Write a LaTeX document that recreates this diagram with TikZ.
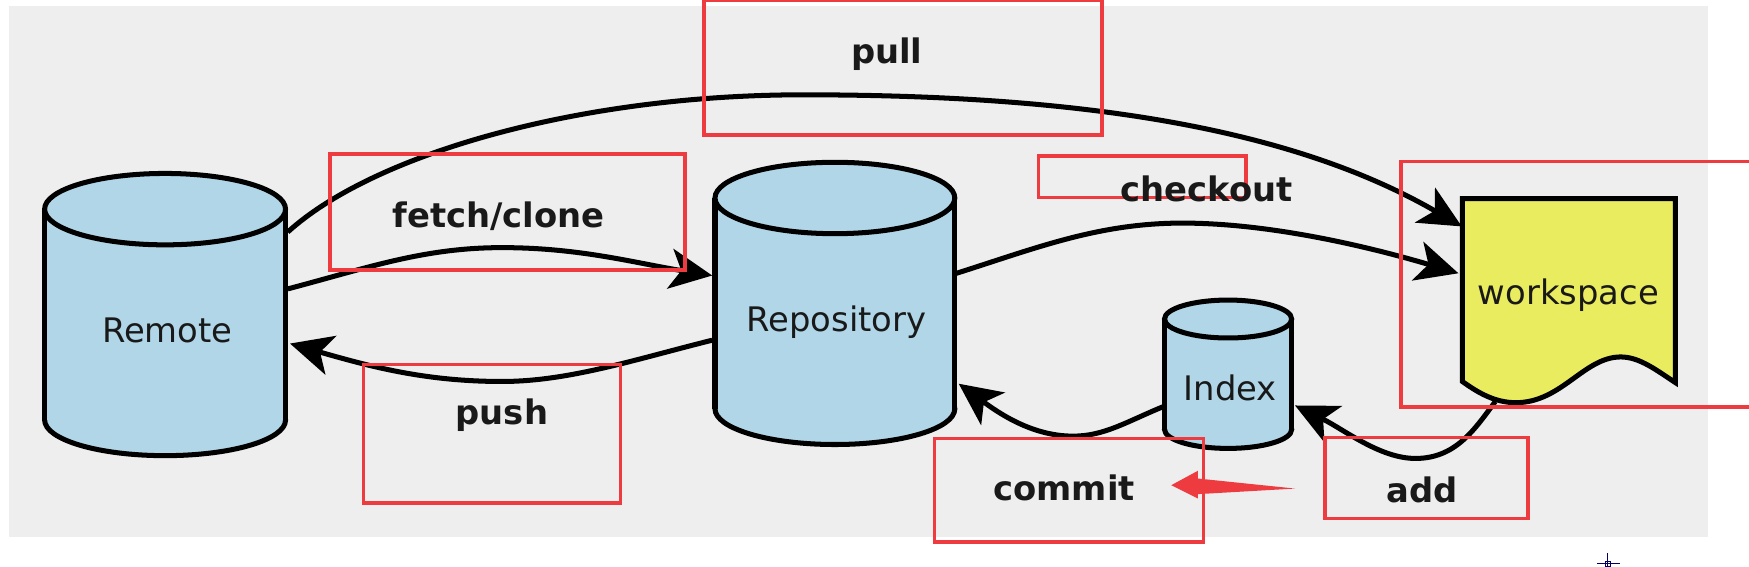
\documentclass[tikz,border=0pt]{standalone}
\usepackage{fontspec}
\setmainfont{DejaVu Sans}
\usetikzlibrary{arrows.meta,calc}
\definecolor{panel}{HTML}{EFEEEF}
\definecolor{dbblue}{HTML}{B0D6E7}
\definecolor{wsyellow}{HTML}{EAEC60}
\definecolor{redmark}{HTML}{EE3B40}
\tikzset{
  dbbox/.style={inner sep=0pt,outer sep=0pt},
  dbline/.style={draw=black,line width=4.5pt},
  plain/.style={font=\fontsize{30.3}{34}\selectfont,text=black!90,inner sep=0pt},
  cmd/.style={font=\fontsize{30.3}{34}\selectfont\bfseries,text=black!90,inner sep=0pt},
  flow/.style={line width=4.5pt,draw=black,-{Stealth[length=38pt,width=36pt,inset=10pt]}},
  markbox/.style={draw=redmark,line width=3pt,fill=none,inner sep=0pt,outer sep=0pt},
}
% name, half width, ellipse half height
\newcommand{\dbcylinder}[3]{%
  \draw[dbline,fill=dbblue] ($(#1.south)+(0,-#3)$) ellipse [x radius=#2,y radius=#3];
  \fill[dbblue] ($(#1.north west)+(0,#3)$) rectangle ($(#1.south east)+(0,-#3)$);
  \draw[dbline] ($(#1.north west)+(0,#3)$) -- ($(#1.south west)+(0,-#3)$)
                ($(#1.north east)+(0,#3)$) -- ($(#1.south east)+(0,-#3)$);
  \draw[dbline,fill=dbblue] ($(#1.north)+(0,#3)$) ellipse [x radius=#2,y radius=#3];
}
\begin{document}
\begin{tikzpicture}[x=1pt,y=-1pt]
\useasboundingbox (0,0) rectangle (1568,508.3);
\fill[white] (0,0) rectangle (1568,508.3);
\fill[panel] (8,5) rectangle (1531,481);
% nodes
\node[dbbox,minimum width=216pt,minimum height=253pt] (remote) at (148,282) {};
\node[dbbox,minimum width=215pt,minimum height=253pt] (repo) at (748.5,272) {};
\node[dbbox,minimum width=114pt,minimum height=133pt] (index) at (1101,335.5) {};
\node[dbbox,minimum width=191pt,minimum height=184pt] (ws) at (1406.5,270) {};
% connectors
\draw[flow] ([shift={(110,-74)}]remote.center) .. controls (335,138) and (520,85) .. (720,85)
  .. controls (950,85) and (1150,110) .. ([shift={(-96,-67)}]ws.center);
\draw[flow] ([shift={(110,-23)}]remote.center) .. controls (330,240) and (380,222) .. (450,222)
  .. controls (520,222) and (570,236) .. ([shift={(-110,-25)}]repo.center);
\draw[flow] ([shift={(-110,33)}]repo.center) .. controls (570,322) and (510,342) .. (450,342)
  .. controls (380,342) and (330,328) .. ([shift={(112,26)}]remote.center);
\draw[flow] ([shift={(109,-27)}]repo.center) .. controls (930,222) and (985,200) .. (1060,200)
  .. controls (1140,200) and (1230,222) .. ([shift={(-99,-25)}]ws.center);
\draw[flow] ([shift={(-58,29)}]index.center) .. controls (1010,378) and (990,391) .. (962,391)
  .. controls (925,391) and (895,370) .. ([shift={(111,72)}]repo.center);
\draw[flow] ([shift={(-66,90)}]ws.center) .. controls (1322,385) and (1305,411) .. (1269,411)
  .. controls (1237,411) and (1205,385) .. ([shift={(60,28)}]index.center);
% shapes
\dbcylinder{remote}{108}{32}
\dbcylinder{repo}{107.5}{32}
\dbcylinder{index}{57}{17}
\draw[dbline,fill=wsyellow,line join=miter]
  (ws.north west) -- (ws.north east) -- ([yshift=19pt]ws.south east)
  .. controls (1485,332) and (1470,320) .. (1453,320)
  .. controls (1420,320) and (1400,361) .. (1359,361)
  .. controls (1340,361) and (1325,352) .. ([yshift=20pt]ws.south west) -- cycle;
% red marks
\node[markbox,minimum width=357pt,minimum height=121pt] (mpull) at (809.5,60.5) {};
\node[markbox,minimum width=318pt,minimum height=104pt] (mfetch) at (455,190) {};
\node[markbox,minimum width=230pt,minimum height=124pt] (mpush) at (441,389) {};
\node[markbox,minimum width=186pt,minimum height=37pt] (mcheck) at (1024,158.5) {};
\node[markbox,minimum width=241pt,minimum height=93pt] (mcommit) at (958.5,439.5) {};
\node[markbox,minimum width=182pt,minimum height=73pt] (madd) at (1279,428.5) {};
\draw[redmark,line width=3pt] (1568,145) -- (1256,145) -- (1256,365) -- (1568,365);
\coordinate (rtail) at (1161,438);
\fill[redmark] (rtail) -- (1074,429) -- (1074,422) -- (1050,435) -- (1074,447) -- (1074,443) -- cycle;
% labels
\node[plain] (lremote) at (150,296) {Remote};
\node[plain] (lrepo) at (750,289) {Repository};
\node[plain] (lindex) at (1103,348) {Index};
\node[plain] (lws) at (1406,265) {workspace};
\node[cmd] (lpull) at (795,49) {pull};
\node[cmd] (lfetch) at (447,194) {fetch/clone};
\node[cmd] (lpush) at (450,372) {push};
\node[cmd] (lcheck) at (1082,169) {checkout};
\node[cmd] (lcommit) at (954,437) {commit};
\node[cmd] (ladd) at (1275,439) {add};
% cursor mark
\draw[black!60!blue,line width=1pt] (1441.5,496) -- (1441.5,508.3) (1432,505.5) -- (1452,505.5);
\draw[black!60!blue,line width=.8pt] (1439,503) rectangle (1444,508);
\end{tikzpicture}
\end{document}
